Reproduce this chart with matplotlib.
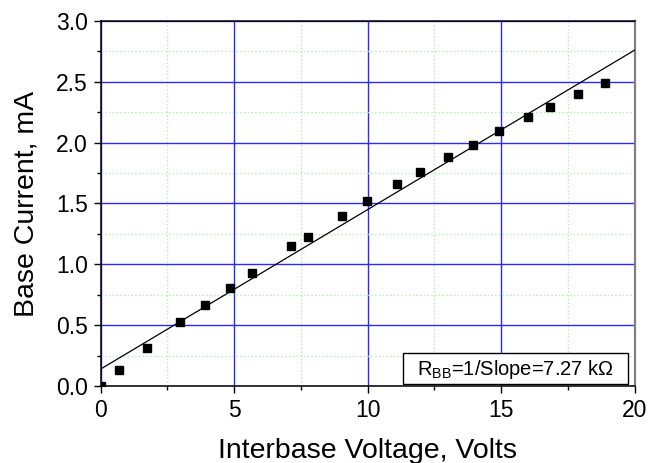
import matplotlib
matplotlib.use("Agg")
import matplotlib.pyplot as plt
from matplotlib.ticker import MultipleLocator
from matplotlib.patches import Rectangle

plt.rcParams['font.family'] = ['Liberation Sans', 'DejaVu Sans']
plt.rcParams['mathtext.fontset'] = 'custom'
plt.rcParams['mathtext.rm'] = 'Liberation Sans'

# Data
voltage = [0.0, 0.69, 1.73, 2.97, 3.91, 4.84, 5.66, 7.13, 7.78, 9.03, 9.97,
           11.10, 11.97, 13.02, 13.93, 14.92, 16.00, 16.83, 17.89, 18.88]
current = [0.0, 0.135, 0.315, 0.525, 0.665, 0.81, 0.926, 1.148, 1.227, 1.397, 1.52,
           1.657, 1.755, 1.881, 1.98, 2.094, 2.212, 2.289, 2.403, 2.49]
fit_x = [0.0, 20.0]
fit_intercept = 0.14
fit_slope = 0.131
fit_y = [fit_intercept + fit_slope * v for v in fit_x]

x_ticks = [0, 5, 10, 15, 20]
y_ticks = [0.0, 0.5, 1.0, 1.5, 2.0, 2.5, 3.0]
annotation = r'R$_{\mathregular{BB}}$=1/Slope=7.27 kΩ'

fig = plt.figure(figsize=(6.49, 4.63), dpi=100)
ax = fig.add_axes([0.155, 0.166, 0.823, 0.789])

ax.plot(fit_x, fit_y, color='black', lw=0.9, zorder=3)
ax.plot(voltage, current, 's', color='black', ms=6.2, zorder=4, clip_on=True)

ax.set_xlim(0, 20)
ax.set_ylim(0, 3.0)
ax.set_xticks(x_ticks)
ax.set_yticks(y_ticks)
ax.set_xticklabels([str(t) for t in x_ticks])
ax.set_yticklabels([f'{t:.1f}' for t in y_ticks])
ax.xaxis.set_minor_locator(MultipleLocator(2.5))
ax.yaxis.set_minor_locator(MultipleLocator(0.25))

ax.grid(which='major', color='#2a2aff', lw=1.0, ls='-', zorder=1)
ax.grid(which='minor', color='#a0f0a0', lw=0.9, ls=(0, (1, 2)), zorder=1)
ax.set_axisbelow(True)

ax.tick_params(which='major', direction='out', length=5, width=1.0,
               labelsize=16.5, top=False, right=False, pad=4, colors='black')
ax.tick_params(which='minor', direction='out', length=3, width=1.0,
               top=False, right=False)

for s in ['left', 'bottom', 'top']:
    ax.spines[s].set_color('black')
    ax.spines[s].set_linewidth(1.1)
ax.spines['right'].set_color('#808080')
ax.spines['right'].set_linewidth(1.6)

ax.set_xlabel('Interbase Voltage, Volts', fontsize=20.5, labelpad=12)
ax.set_ylabel('Base Current, mA', fontsize=20.5, labelpad=12)

ax.add_patch(Rectangle((0.566, 0.006), 0.421, 0.084, transform=ax.transAxes,
                       facecolor='white', edgecolor='black', lw=1.0, zorder=5))
ax.text(0.777, 0.046, annotation, transform=ax.transAxes, ha='center', va='center',
        fontsize=14.5, zorder=6)

fig.savefig('out.png', dpi=100)
